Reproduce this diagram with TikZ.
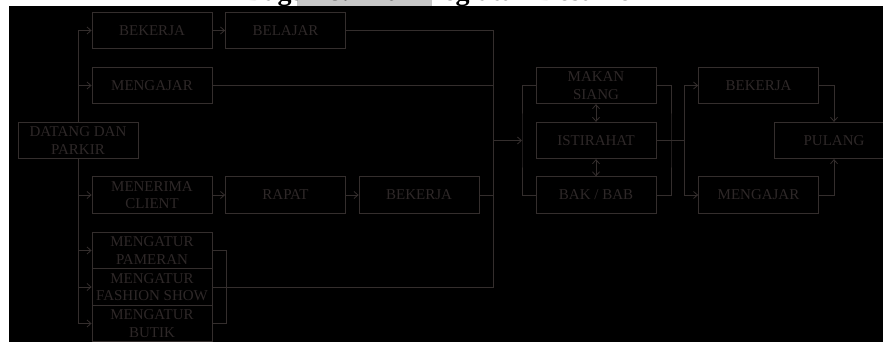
\documentclass[tikz,border=0pt]{standalone}
\usepackage{fontspec}
\setmainfont{Liberation Serif}
\usetikzlibrary{arrows.meta,positioning}
\definecolor{lnclr}{RGB}{52,46,45}
\definecolor{txtclr}{RGB}{46,40,40}
\definecolor{hilite}{RGB}{200,200,200}
\tikzset{
  blk/.style={draw=lnclr, line width=0.8pt, align=center, inner sep=0pt,
              text=txtclr, font=\fontsize{15}{17.5}\selectfont,
              minimum width=120pt, minimum height=36.5pt},
  lnk/.style={draw=lnclr, line width=0.8pt},
  sig/.style={lnk, -{Straight Barb[length=4pt,width=7pt]}},
  dsig/.style={lnk, {Straight Barb[length=4pt,width=7pt]}-{Straight Barb[length=4pt,width=7pt]}},
}

\begin{document}
\begin{tikzpicture}[x=1pt, y=-1pt]
    \useasboundingbox (0,0) rectangle (883,342);
    % title strip and dark ground
    \fill[hilite] (297,0) rectangle (432,6);
    \node[anchor=base, font=\bfseries\fontsize{28}{32}\selectfont, inner sep=0pt] (ttl) at (444,1)
      {Bagan 8. Alur Kegiatan Desainer};
    \fill[black] (9,6) rectangle (883,342);

    % left part
    \node[blk] (datang) at (78,140.5) {DATANG DAN\\PARKIR};
    \node[blk] (bekerjaA) at (152,30.5) {BEKERJA};
    \node[blk] (belajar) at (285.5,30.5) {BELAJAR};
    \node[blk] (mengajarA) at (152,85.5) {MENGAJAR};
    \node[blk] (menerima) at (152,195) {MENERIMA\\CLIENT};
    \node[blk] (rapat) at (285.5,195) {RAPAT};
    \node[blk] (bekerjaB) at (419,195) {BEKERJA};
    \node[blk] (pameran) at (152,250.5) {MENGATUR\\PAMERAN};
    \node[blk] (fashion) at (152,287) {MENGATUR\\FASHION SHOW};
    \node[blk] (butik) at (152,323.5) {MENGATUR\\BUTIK};

    % middle part
    \node[blk] (makan) at (596,85.5) {MAKAN\\SIANG};
    \node[blk] (istirahat) at (596,140.5) {ISTIRAHAT};
    \node[blk] (bakbab) at (596,195) {BAK / BAB};

    % right part
    \node[blk] (bekerjaC) at (758.5,85.5) {BEKERJA};
    \node[blk] (mengajarB) at (758.5,195) {MENGAJAR};
    \node[blk] (pulang) at (834,140.5) {PULANG};

    \coordinate (joinL) at (493,140.5);
    \coordinate (splitL) at (522,140.5);
    \coordinate (joinR) at (671,140.5);
    \coordinate (splitR) at (684,140.5);

    \draw[sig] (datang.north) |- (bekerjaA.west);
    \draw[sig] (datang.north) |- (mengajarA.west);
    \draw[sig] (datang.south) |- (menerima.west);
    \draw[sig] (datang.south) |- (pameran.west);
    \draw[sig] (datang.south) |- (fashion.west);
    \draw[sig] (datang.south) |- (butik.west);
    \draw[sig] (bekerjaA) -- (belajar);
    \draw[sig] (menerima) -- (rapat);
    \draw[sig] (rapat) -- (bekerjaB);
    \draw[lnk] (pameran.east) -- ++(14,0) |- (butik.east);
    \draw[lnk] (belajar.east) -| (joinL);
    \draw[lnk] (mengajarA.east) -| (joinL);
    \draw[lnk] (bekerjaB.east) -| (joinL);
    \draw[lnk] (fashion.east) -| (joinL);

    \draw[sig] (joinL) -- (splitL);
    \draw[lnk] (makan.west) -| (splitL) |- (bakbab.west);
    \draw[dsig] (makan) -- (istirahat);
    \draw[dsig] (istirahat) -- (bakbab);
    \draw[lnk] (makan.east) -| (joinR) |- (bakbab.east);
    \draw[lnk] (istirahat.east) -- (splitR);
    \draw[sig] (splitR) |- (bekerjaC.west);
    \draw[sig] (splitR) |- (mengajarB.west);
    \draw[sig] (bekerjaC.east) -| (pulang.north);
    \draw[sig] (mengajarB.east) -| (pulang.south);
\end{tikzpicture}
\end{document}
